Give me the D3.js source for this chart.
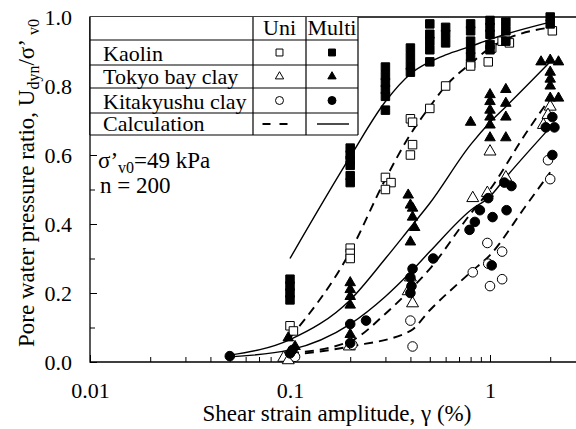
<!DOCTYPE html>
<html>
<head>
<meta charset="utf-8">
<script src="https://d3js.org/d3.v7.min.js"></script>
<style>
body { margin: 0; background: #fff; }
svg { display: block; font-family: "Liberation Serif", "Times New Roman", serif; }
</style>
</head>
<body>
<script>
// measured points: [shear strain (%), Udyn/σ'v0]
var kaolinUni = [[0.1,0.105],[0.104,0.09],[0.2,0.33],[0.2,0.315],[0.2,0.30],[0.3,0.535],[0.32,0.52],[0.3,0.50],
    [0.4,0.705],[0.41,0.695],[0.41,0.63],[0.4,0.60],[0.5,0.735],[0.6,0.80],[0.8,0.865],[0.8,0.858],
    [0.98,0.87],[1.02,0.91],[1.15,0.93],[1.25,0.925],[2.05,0.96]]
var kaolinMulti = [[0.1,0.24],[0.1,0.22],[0.1,0.20],[0.1,0.18],
    [0.2,0.62],[0.2,0.60],[0.2,0.585],[0.2,0.57],[0.2,0.54],[0.2,0.52],
    [0.3,0.855],[0.3,0.83],[0.3,0.81],[0.3,0.79],[0.3,0.77],[0.3,0.73],
    [0.4,0.91],[0.4,0.885],[0.4,0.86],[0.4,0.84],
    [0.5,0.98],[0.5,0.95],[0.5,0.93],[0.5,0.905],[0.5,0.87],
    [0.6,0.97],[0.6,0.95],[0.6,0.925],
    [0.8,0.98],[0.8,0.96],[0.8,0.93],[0.8,0.905],[0.8,0.885],
    [1.0,0.99],[1.0,0.97],[1.0,0.95],[1.0,0.92],[1.0,0.905],
    [1.2,0.985],[1.2,0.96],[1.2,0.93],[2.0,1.0],[2.0,0.98]]
var tokyoUni = [[0.093,0.012],[0.098,0.005],[0.198,0.045],[0.4,0.245],[0.39,0.205],[0.41,0.17],
    [0.82,0.475],[0.97,0.49],[1.0,0.61],[1.2,0.535],[2.0,0.74],[1.95,0.716],[1.85,0.687]]
var tokyoMulti = [[0.098,0.07],[0.106,0.045],[0.2,0.23],[0.2,0.21],[0.2,0.19],[0.2,0.165],[0.2,0.08],
    [0.39,0.484],[0.4,0.455],[0.41,0.446],[0.41,0.42],[0.42,0.39],[0.4,0.348],[0.8,0.695],
    [1.0,0.775],[1.0,0.755],[1.0,0.73],[1.0,0.71],[1.0,0.687],[1.0,0.65],
    [1.2,0.79],[1.2,0.75],[1.2,0.71],[1.2,0.65],
    [1.8,0.87],[2.0,0.875],[2.2,0.87],[2.0,0.84],[2.0,0.82],[2.0,0.80],[2.0,0.765],[2.2,0.765]]
var kitaUni = [[0.106,0.015],[0.205,0.05],[0.4,0.12],[0.41,0.045],[0.82,0.26],[0.97,0.345],[1.15,0.32],
    [0.98,0.285],[1.0,0.22],[1.15,0.24],[1.95,0.585],[2.0,0.53]]
var kitaMulti = [[0.05,0.017],[0.1,0.025],[0.103,0.035],[0.2,0.11],[0.2,0.055],[0.24,0.12],
    [0.41,0.27],[0.4,0.245],[0.405,0.22],[0.4,0.20],[0.52,0.30],
    [0.79,0.383],[0.84,0.406],[0.89,0.44],[0.98,0.475],[1.03,0.42],[1.02,0.28],
    [1.21,0.44],[1.18,0.52],[1.28,0.51],[2.05,0.71],[2.1,0.68],[1.9,0.68],[2.05,0.60]]

// calculation curves
var kaolinUniCalc = [[0.1,0.07],[0.2,0.32],[0.3,0.53],[0.4,0.66],[0.5,0.74],[0.6,0.80],[0.8,0.865],[1.0,0.91],[1.2,0.935],[2.0,0.97]]
var kaolinMultiCalc = [[0.1,0.30],[0.2,0.595],[0.3,0.755],[0.4,0.835],[0.5,0.87],[0.6,0.89],[0.8,0.915],[1.0,0.935],[1.2,0.95],[2.0,0.985]]
var tokyoUniCalc = [[0.1,0.025],[0.2,0.06],[0.3,0.14],[0.4,0.21],[0.5,0.27],[0.8,0.43],[1.0,0.50],[1.5,0.66],[2.0,0.765]]
var tokyoMultiCalc = [[0.05,0.02],[0.1,0.065],[0.2,0.18],[0.3,0.30],[0.4,0.39],[0.5,0.46],[0.8,0.63],[1.0,0.695],[1.2,0.74],[2.0,0.87]]
var kitaUniCalc = [[0.1,0.02],[0.2,0.045],[0.4,0.09],[0.5,0.15],[0.8,0.26],[1.0,0.31],[1.5,0.45],[2.0,0.55]]
var kitaMultiCalc = [[0.05,0.015],[0.1,0.035],[0.2,0.11],[0.3,0.19],[0.4,0.26],[0.5,0.32],[0.8,0.44],[1.0,0.48],[1.2,0.535],[2.0,0.68]]

var strainTicks = [0.01, 0.1, 1]
var ratioTicks = [0, 0.2, 0.4, 0.6, 0.8, 1.0]
var ratioMinor = [0.1, 0.3, 0.5, 0.7, 0.9]
var legendRows = ["Kaolin", "Tokyo bay clay", "Kitakyushu clay", "Calculation"]
var legendCols = ["Uni", "Multi"]

var width = 576, height = 429
var plotLeft = 90, plotTop = 17, plotBottom = 362

var svg = d3.select("body")
    .append("svg")
    .attr("width", width)
    .attr("height", height)

var x = d3.scaleLog()
    .domain([0.01, 3])
    .range([plotLeft, plotLeft + 200 * Math.log10(300)])
var y = d3.scaleLinear()
    .domain([0, 1])
    .range([plotBottom, plotTop])

// x axis (ticks inside)
var gx = svg.append("g").attr("transform", "translate(0," + plotBottom + ")")
gx.call(d3.axisBottom(x).tickValues(x.ticks()).tickSize(-5).tickFormat(""))
gx.append("g").call(d3.axisBottom(x).tickValues(strainTicks).tickSize(-7).tickPadding(20)
    .tickFormat(function (d) { return d }))
gx.selectAll(".domain").remove()
gx.selectAll("line").attr("stroke", "#000")
gx.selectAll("text").attr("font-size", 22).attr("font-family", "Liberation Serif").attr("fill", "#000")

// y axis
var gy = svg.append("g").attr("transform", "translate(" + plotLeft + ",0)")
gy.call(d3.axisLeft(y).tickValues(ratioMinor).tickSize(-5).tickFormat(""))
gy.append("g").call(d3.axisLeft(y).tickValues(ratioTicks).tickSize(-7).tickPadding(18)
    .tickFormat(d3.format(".1f")))
gy.selectAll(".domain").remove()
gy.selectAll("line").attr("stroke", "#000")
gy.selectAll("text").attr("font-size", 22).attr("font-family", "Liberation Serif").attr("fill", "#000")

// frame (right side runs off the page)
svg.append("path")
    .attr("d", "M" + width + "," + plotTop + "H" + plotLeft + "V" + plotBottom + "H" + width)
    .attr("fill", "none")
    .attr("stroke", "#000")
    .attr("stroke-width", 1.3)

// calculation curves
var line = d3.line()
    .x(function (d) { return x(d[0]) })
    .y(function (d) { return y(d[1]) })
    .curve(d3.curveMonotoneX)

var calcs = [
    {data: kaolinUniCalc, dash: true}, {data: tokyoUniCalc, dash: true}, {data: kitaUniCalc, dash: true},
    {data: kaolinMultiCalc, dash: false}, {data: tokyoMultiCalc, dash: false}, {data: kitaMultiCalc, dash: false}
]
svg.selectAll("path.calc")
    .data(calcs)
    .enter()
    .append("path")
        .attr("class", "calc")
        .attr("d", function (d) { return line(d.data) })
        .attr("fill", "none")
        .attr("stroke", "#000")
        .attr("stroke-width", function (d) { return d.dash ? 1.9 : 1.4 })
        .attr("stroke-dasharray", function (d) { return d.dash ? "9,6" : null })

// markers
var series = [
    {data: kaolinUni, sym: d3.symbol().type(d3.symbolSquare).size(72), fill: "#fff"},
    {data: tokyoUni, sym: d3.symbol().type(d3.symbolTriangle).size(62), fill: "#fff"},
    {data: kitaUni, sym: d3.symbol().type(d3.symbolCircle).size(72), fill: "#fff"},
    {data: kaolinMulti, sym: d3.symbol().type(d3.symbolSquare).size(72), fill: "#000"},
    {data: tokyoMulti, sym: d3.symbol().type(d3.symbolTriangle).size(48), fill: "#000"},
    {data: kitaMulti, sym: d3.symbol().type(d3.symbolCircle).size(72), fill: "#000"}
]
series.forEach(function (s) {
    svg.append("g").selectAll("path")
        .data(s.data)
        .enter()
        .append("path")
            .attr("d", s.sym)
            .attr("transform", function (d) { return "translate(" + x(d[0]) + "," + y(d[1]) + ")" })
            .attr("fill", s.fill)
            .attr("stroke", "#000")
            .attr("stroke-width", 1)
})

// legend table
var colEdges = [plotLeft, 253, 306, 358]
var rowEdges = [plotTop, 40, 65, 88, 113, 135]
var legend = svg.append("g")
legend.append("rect")
    .attr("x", plotLeft).attr("y", plotTop)
    .attr("width", colEdges[3] - plotLeft).attr("height", rowEdges[5] - plotTop)
    .attr("fill", "#fff")
legend.selectAll("line.h")
    .data(rowEdges.slice(1))
    .enter()
    .append("line")
        .attr("x1", plotLeft).attr("x2", colEdges[3])
        .attr("y1", function (d) { return d }).attr("y2", function (d) { return d })
        .attr("stroke", "#000").attr("stroke-width", 1.2)
legend.selectAll("line.v")
    .data(colEdges.slice(1))
    .enter()
    .append("line")
        .attr("x1", function (d) { return d }).attr("x2", function (d) { return d })
        .attr("y1", plotTop).attr("y2", rowEdges[5])
        .attr("stroke", "#000").attr("stroke-width", 1.2)
legend.append("line")
    .attr("x1", plotLeft).attr("x2", plotLeft).attr("y1", plotTop).attr("y2", rowEdges[5])
    .attr("stroke", "#000").attr("stroke-width", 1.3)

var colMid = [(colEdges[1] + colEdges[2]) / 2, (colEdges[2] + colEdges[3]) / 2]
legend.selectAll("text.head")
    .data(legendCols)
    .enter()
    .append("text")
        .attr("x", function (d, i) { return colMid[i] })
        .attr("y", rowEdges[1] - 5)
        .attr("text-anchor", "middle")
        .attr("font-size", 22)
        .text(function (d) { return d })
legend.selectAll("text.row")
    .data(legendRows)
    .enter()
    .append("text")
        .attr("x", 103)
        .attr("y", function (d, i) { return rowEdges[i + 2] - 4 })
        .attr("font-size", 22)
        .text(function (d) { return d })

var legSym = [
    d3.symbol().type(d3.symbolSquare).size(48),
    d3.symbol().type(d3.symbolTriangle).size(30),
    d3.symbol().type(d3.symbolCircle).size(50)
]
legSym.forEach(function (sym, i) {
    var cy = (rowEdges[i + 1] + rowEdges[i + 2]) / 2
    legend.append("path").attr("d", sym)
        .attr("transform", "translate(" + colMid[0] + "," + cy + ")")
        .attr("fill", "#fff").attr("stroke", "#000").attr("stroke-width", 1)
    legend.append("path").attr("d", sym)
        .attr("transform", "translate(" + colMid[1] + "," + cy + ")")
        .attr("fill", "#000").attr("stroke", "#000").attr("stroke-width", 1)
})
var calcY = (rowEdges[4] + rowEdges[5]) / 2
legend.append("line")
    .attr("x1", colMid[0] - 17).attr("x2", colMid[0] + 10)
    .attr("y1", calcY).attr("y2", calcY)
    .attr("stroke", "#000").attr("stroke-width", 2).attr("stroke-dasharray", "8,9")
legend.append("line")
    .attr("x1", colMid[1] - 15).attr("x2", colMid[1] + 17)
    .attr("y1", calcY).attr("y2", calcY)
    .attr("stroke", "#000").attr("stroke-width", 1.4)

// test conditions
var cond = svg.append("text").attr("x", 98).attr("y", 168).attr("font-size", 23)
cond.append("tspan").text("σ’")
cond.append("tspan").attr("font-size", 16).attr("dy", 5).text("v0")
cond.append("tspan").attr("dy", -5).text("=49 kPa")
svg.append("text").attr("x", 100).attr("y", 193).attr("font-size", 23).text("n = 200")

// axis titles
svg.append("text")
    .attr("x", 337).attr("y", 421)
    .attr("text-anchor", "middle")
    .attr("font-size", 23)
    .text("Shear strain amplitude, γ (%)")

var yl = svg.append("text")
    .attr("transform", "translate(34,183) rotate(-90)")
    .attr("text-anchor", "middle")
    .attr("font-size", 23)
yl.append("tspan").text("Pore water pressure ratio, U")
yl.append("tspan").attr("font-size", 16).attr("dy", 5).text("dyn")
yl.append("tspan").attr("dy", -5).text("/σ’ ")
yl.append("tspan").attr("font-size", 16).attr("dy", 5).text("v0")
</script>
</body>
</html>
